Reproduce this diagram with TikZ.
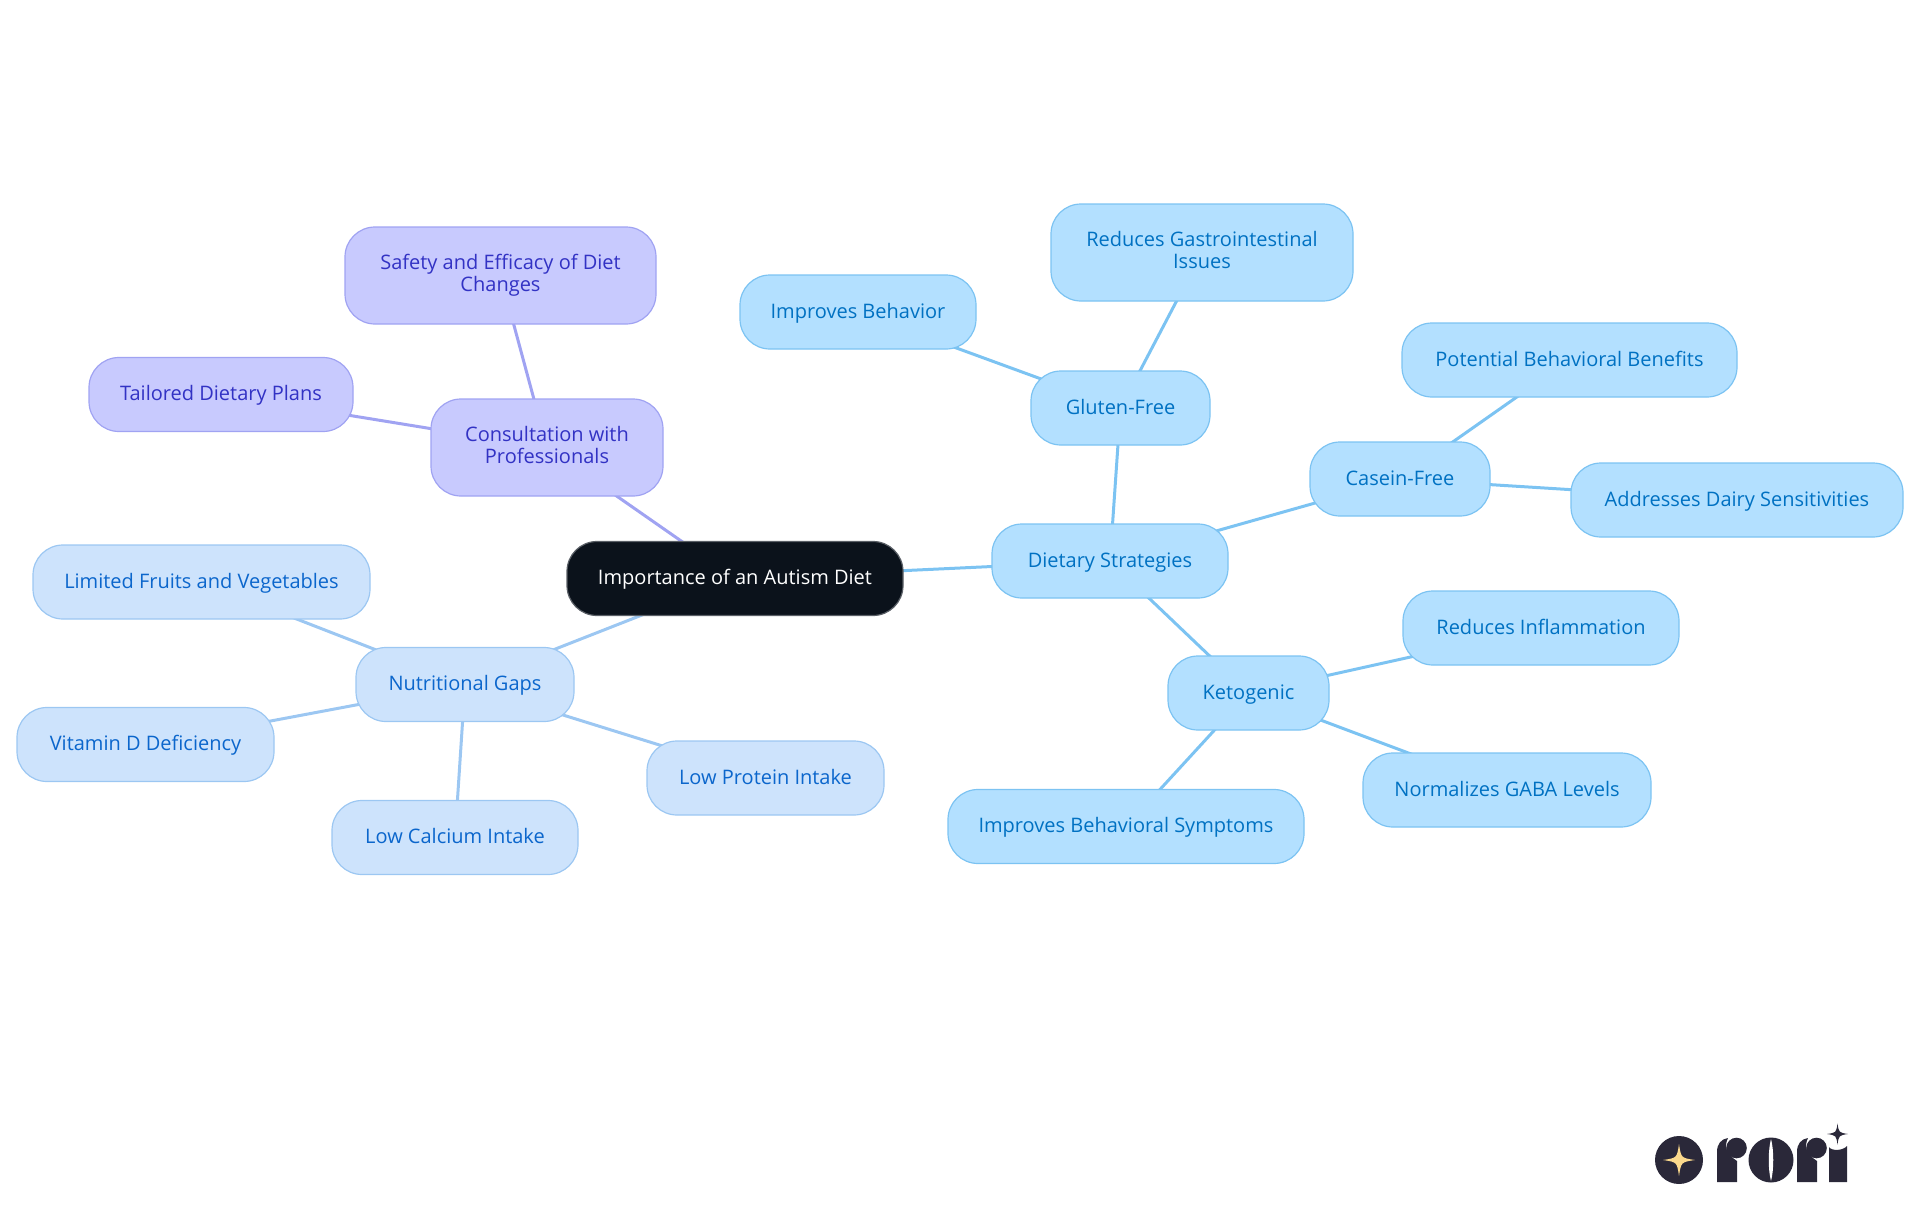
\documentclass[tikz,border=0pt]{standalone}
\usepackage{fontspec}
\setmainfont{Open Sans}
\usetikzlibrary{backgrounds}
\definecolor{rootfill}{HTML}{0B121B}
\definecolor{rootline}{HTML}{5A5F66}
\definecolor{dietfill}{HTML}{B3E0FF}
\definecolor{dietline}{HTML}{7CC3F2}
\definecolor{diettext}{HTML}{0071C2}
\definecolor{gapfill}{HTML}{CDE3FC}
\definecolor{gapline}{HTML}{9CC7F2}
\definecolor{gaptext}{HTML}{0B66CC}
\definecolor{proffill}{HTML}{C8CAFE}
\definecolor{profline}{HTML}{A0A3F2}
\definecolor{proftext}{HTML}{3232C4}
\definecolor{logoink}{HTML}{2A2839}
\definecolor{logostar}{HTML}{FBD98C}
\tikzset{
  mapnode/.style={draw, line width=1.2pt, rounded corners=30pt, inner sep=0pt, align=center, minimum height=74pt, text height=16.5pt, text depth=4.5pt},
  twoline/.style={minimum height=97pt, text height=, text depth=, execute at end node=\vphantom{g}},
  rootnode/.style={mapnode, fill=rootfill, draw=rootline, text=white},
  dietnode/.style={mapnode, fill=dietfill, draw=dietline, text=diettext},
  gapnode/.style={mapnode, fill=gapfill, draw=gapline, text=gaptext},
  profnode/.style={mapnode, fill=proffill, draw=profline, text=proftext},
  dietedge/.style={line width=3pt, draw=dietline},
  gapedge/.style={line width=3pt, draw=gapline},
  profedge/.style={line width=3pt, draw=profline}
}
\newcommand{\sparkle}[4]{\fill[#4] (#1,#2-#3) .. controls (#1+.13*#3,#2-.13*#3) .. (#1+#3,#2) .. controls (#1+.13*#3,#2+.13*#3) .. (#1,#2+#3) .. controls (#1-.13*#3,#2+.13*#3) .. (#1-#3,#2) .. controls (#1-.13*#3,#2-.13*#3) .. cycle;}
\begin{document}
\begin{tikzpicture}[x=1pt, y=-1pt, font=\fontsize{20}{22}\selectfont, line join=round, line cap=round]
 \useasboundingbox (0,0) rectangle (1920,1215);
 \node[rootnode, minimum width=336pt] (root) at (735,578.5) {Importance of an Autism Diet};
 % purple branch
 \node[profnode, twoline, minimum width=232pt] (consult) at (547,447.5) {Consultation with\\Professionals};
 \node[profnode, twoline, minimum width=311pt] (safety) at (500.5,275.5) {Safety and Efficacy of Diet\\Changes};
 \node[profnode, minimum width=264pt] (tailored) at (221,394.5) {Tailored Dietary Plans};
 % pale blue branch
 \node[gapnode, minimum width=218pt] (gaps) at (465,684.5) {Nutritional Gaps};
 \node[gapnode, minimum width=337pt] (fruits) at (201.5,582) {Limited Fruits and Vegetables};
 \node[gapnode, minimum width=257pt] (vitamin) at (145.5,744.5) {Vitamin D Deficiency};
 \node[gapnode, minimum width=246pt] (calcium) at (455,837.5) {Low Calcium Intake};
 \node[gapnode, minimum width=237pt] (protein) at (765.5,778) {Low Protein Intake};
 % blue branch
 \node[dietnode, minimum width=236pt] (dietary) at (1110,561) {Dietary Strategies};
 \node[dietnode, minimum width=179pt] (gluten) at (1120.5,408) {Gluten-Free};
 \node[dietnode, minimum width=236pt] (behavior) at (858,312) {Improves Behavior};
 \node[dietnode, twoline, minimum width=302pt] (gastro) at (1202,252.5) {Reduces Gastrointestinal\\Issues};
 \node[dietnode, minimum width=180pt] (casein) at (1400,479) {Casein-Free};
 \node[dietnode, minimum width=335pt] (potential) at (1569.5,360) {Potential Behavioral Benefits};
 \node[dietnode, minimum width=332pt] (dairy) at (1737,500) {Addresses Dairy Sensitivities};
 \node[dietnode, minimum width=161pt] (keto) at (1248.5,693) {Ketogenic};
 \node[dietnode, minimum width=276pt] (inflam) at (1541,628) {Reduces Inflammation};
 \node[dietnode, minimum width=288pt] (gaba) at (1507,790) {Normalizes GABA Levels};
 \node[dietnode, minimum width=356pt] (symptoms) at (1126,826.5) {Improves Behavioral Symptoms};
 \begin{pgfonlayer}{background}
  \foreach \from/\to in {root/consult, consult/safety, consult/tailored}
   \draw[profedge] (\from.center) -- (\to.center);
  \foreach \from/\to in {root/gaps, gaps/fruits, gaps/vitamin, gaps/calcium, gaps/protein}
   \draw[gapedge] (\from.center) -- (\to.center);
  \foreach \from/\to in {root/dietary, dietary/gluten, gluten/behavior, gluten/gastro, dietary/casein, casein/potential, casein/dairy, dietary/keto, keto/inflam, keto/gaba, keto/symptoms}
   \draw[dietedge] (\from.center) -- (\to.center);
 \end{pgfonlayer}
 % logo
 \fill[logoink] (1679,1160) circle (24);
 \sparkle{1679}{1160}{16}{logostar}
 \foreach \s in {0,80} {
  \fill[logoink] (1717+\s,1182) -- (1717+\s,1152) .. controls (1717+\s,1144) and (1721+\s,1139) .. (1728+\s,1138) .. controls (1724+\s,1146) and (1726+\s,1154) .. (1737+\s,1161) -- (1737+\s,1182) -- cycle;
  \fill[logoink] (1736.5+\s,1148) circle (10.3);
 }
 \fill[logoink] (1771,1160) circle (22.5);
 \fill[white] (1771,1139) .. controls (1768,1150) and (1768,1170) .. (1771,1181) .. controls (1774,1170) and (1774,1150) .. (1771,1139) -- cycle;
 \fill[logoink] (1829,1182) -- (1829,1147) .. controls (1831,1151) and (1843,1151) .. (1847,1146) -- (1847,1182) -- cycle;
 \sparkle{1837.5}{1134}{10.5}{logoink}
\end{tikzpicture}
\end{document}
